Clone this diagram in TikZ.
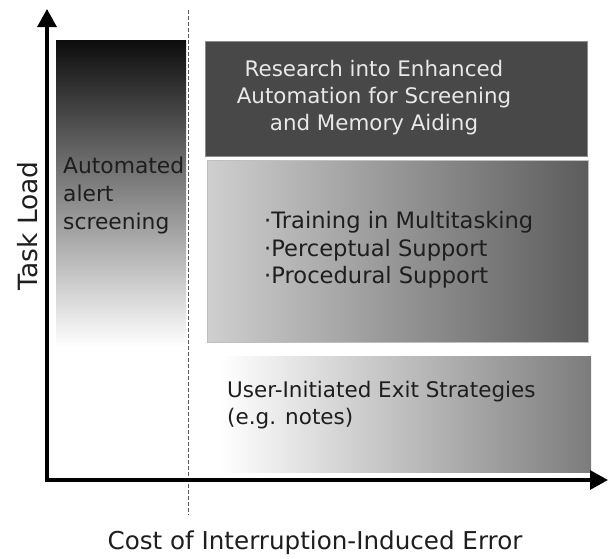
\documentclass[tikz,border=0pt]{standalone}
\usepackage{fontspec}
\setmainfont{DejaVu Sans}
\usetikzlibrary{arrows.meta}
\definecolor{darkbox}{HTML}{484848}
\definecolor{midleft}{HTML}{CFCFCF}
\definecolor{midright}{HTML}{5C5C5C}
\definecolor{lowright}{HTML}{7C7C7C}
\definecolor{txt}{HTML}{1E1E1E}
\definecolor{lighttxt}{HTML}{E8E8E8}
\begin{document}
\begin{tikzpicture}[x=1pt,y=-1pt,
  region/.style={rectangle, inner sep=0pt, anchor=north west},
  label/.style={inner sep=0pt, text=txt},
  axis/.style={line width=3.2pt, line join=miter, black},
  divider/.style={line width=0.9pt, black!65, dash pattern=on 3.5pt off 2.5pt}]
\useasboundingbox (0,0) rectangle (608,558);

% regions
\node[region, minimum width=130pt, minimum height=307pt,
      top color=black!95, middle color=black!42, bottom color=white] (autobox) at (56,40) {};
\node[region, minimum width=382pt, minimum height=115pt,
      fill=darkbox, draw=black!45, line width=0.6pt] (resbox) at (205,41) {};
\node[region, minimum width=381pt, minimum height=182pt,
      left color=midleft, right color=midright, draw=black!25, line width=0.6pt] (trainbox) at (207,160) {};
\node[region, minimum width=371pt, minimum height=116pt,
      left color=white, right color=lowright] (exitbox) at (220,356) {};

% divider
\coordinate (dtop) at (188,10);
\coordinate (dbot) at (188,515);
\draw[divider] (dtop) -- (dbot);

% axes
\coordinate (O) at (47,480);
\coordinate (ytop) at (47,9);
\coordinate (xend) at (608,480);
\draw[axis, {Triangle[length=18pt,width=19pt]}-{Triangle[length=18pt,width=19pt]}] (ytop) -- (O) -- (xend);

% texts
\node[label, text=lighttxt, align=center, anchor=north, font=\fontsize{21.4}{26.8}\selectfont] (restext) at (374,60.5)
  {Research into Enhanced\\Automation for Screening\\and Memory Aiding};
\node[label, align=left, anchor=north west, font=\fontsize{21.8}{28}\selectfont] (autotext) at (63,157)
  {Automated\\alert\\screening};
\node[label, align=left, anchor=north west, font=\fontsize{22.6}{27.8}\selectfont] (traintext) at (264,211)
  {·Training in Multitasking\\·Perceptual Support\\·Procedural Support};
\node[label, align=left, anchor=north west, font=\fontsize{21.5}{26.5}\selectfont] (exittext) at (227,381)
  {User-Initiated Exit Strategies\\(e.g. notes)};
\node[label, anchor=base, font=\fontsize{24.6}{30}\selectfont] (xlabel) at (315,549) {Cost of Interruption-Induced Error};
\node[label, rotate=90, anchor=base, font=\fontsize{26.5}{30}\selectfont] (ylabel) at (37,226) {Task Load};
\end{tikzpicture}
\end{document}
